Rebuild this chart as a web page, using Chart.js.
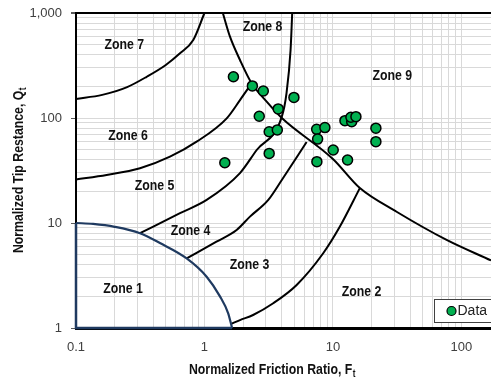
<!DOCTYPE html>
<html lang="en">
<head>
<meta charset="UTF-8">
<title>Soil Behaviour Type Chart</title>
<script src="https://cdn.jsdelivr.net/npm/chart.js"></script>
<style>
  html, body { margin: 0; padding: 0; background: #fff; }
</style>
</head>
<body>
<canvas id="sbtChart" width="491" height="379"></canvas>
<script>
// Decade ticks on both log axes
const xTickValues = [0.1, 1, 10, 100];
const xTickLabels = ['0.1', '1', '10', '100'];
const yTickValues = [1, 10, 100, 1000];
const yTickLabels = ['1', '10', '100', '1,000'];

// CPT results: normalized friction ratio Ft and normalized tip resistance Qt
const dataFt = [1.68, 2.36, 2.87, 4.97, 3.75, 2.67, 3.19, 3.69, 3.19, 1.44, 7.47,
                8.66, 7.6, 10.05, 7.5, 13.0, 12.4, 14.0, 13.8, 15.1, 21.6, 21.6];
const dataQt = [247, 202, 181, 157, 122, 104, 74, 77, 46, 37.5, 78,
                81, 63, 49.6, 38.4, 39.8, 94.3, 92.2, 101.6, 103, 80, 59.5];

// Zone boundaries, [Ft, Qt]
const zone1Curve = [[0.1, 10], [0.136, 9.8], [0.2, 9.2], [0.315, 8.0], [0.45, 6.45],
                    [0.727, 4.6], [1.04, 3.08], [1.32, 2.0], [1.53, 1.38], [1.64, 1]];
const zone1Edges = [[0.1, 10], [0.1, 1], [1.64, 1]];
const zone67 = [[0.1, 152], [0.16, 166], [0.25, 197], [0.355, 247], [0.5, 320],
                [0.645, 413], [0.818, 553], [1.0, 1000]];
const zone56 = [[0.1, 26], [0.173, 28.7], [0.315, 33.2], [0.539, 42.8], [0.869, 59.5],
                [1.49, 99.3], [1.89, 148], [2.33, 214]];
const zone789 = [[1.39, 1000], [1.58, 595], [1.89, 357], [2.33, 214], [3.05, 143],
                 [4.0, 100], [10, 40.7], [16.2, 21.5], [31.3, 12.8], [76.7, 6.9], [170, 4.4]];
const zone45 = [[0.315, 8.0], [0.645, 12.4], [1.04, 16.6], [1.89, 29.9], [2.55, 49.6],
                [4.0, 103], [4.35, 172], [4.68, 444], [4.82, 1000]];
const zone34 = [[0.727, 4.6], [1.24, 6.64], [1.78, 8.58], [2.26, 11.5], [3.14, 16.6],
                [4.0, 25.7], [6.24, 59]];
const zone23 = [[1.63, 1.1], [1.89, 1.19], [2.39, 1.33], [3.43, 1.72], [5.22, 2.57],
                [8.4, 5.15], [11.3, 9.2], [16.2, 21.5]];

const zoneNames = ['Zone 1', 'Zone 2', 'Zone 3', 'Zone 4', 'Zone 5', 'Zone 6', 'Zone 7', 'Zone 8', 'Zone 9'];

const SANS = '"Liberation Sans", Arial, sans-serif';
const NARROW = 0.82;   // horizontal squeeze for the condensed bold labels
const NAVY = '#1f3a60';
const GREEN = '#00b050';

const toXY = arr => arr.map(p => ({ x: p[0], y: p[1] }));

function boundary(points, color, width, smooth) {
  return {
    type: 'line',
    data: toXY(points),
    borderColor: color,
    borderWidth: width,
    pointRadius: 0,
    showLine: true,
    fill: false,
    cubicInterpolationMode: smooth ? 'monotone' : 'default',
    tension: 0,
    order: 2,
    clip: 4
  };
}

function wholeMantissa(v) {
  const m = v / Math.pow(10, Math.floor(Math.log10(v) + 1e-9));
  return Math.abs(m - Math.round(m)) < 1e-6;
}

function decadeLabel(values, labels) {
  return v => {
    const i = values.findIndex(t => Math.abs(t - v) / t < 1e-6);
    return i >= 0 ? labels[i] : '';
  };
}

// keep the plot box fixed: no extra room for edge labels
function noEdgePadding(s) {
  s.paddingLeft = 0;
  s.paddingRight = 0;
  s.paddingTop = 0;
  s.paddingBottom = 0;
}

// condensed bold text, squeezed horizontally around (x, y)
function narrowWidth(ctx, text, size) {
  ctx.font = 'bold ' + size + 'px ' + SANS;
  return ctx.measureText(text).width * NARROW;
}
function narrowText(ctx, text, x, y, size) {
  ctx.save();
  ctx.font = 'bold ' + size + 'px ' + SANS;
  ctx.translate(x, y);
  ctx.scale(NARROW, 1);
  ctx.textAlign = 'left';
  ctx.textBaseline = 'middle';
  ctx.fillText(text, 0, 0);
  ctx.restore();
}

// zone names placed in Ft / Qt coordinates
const zoneAnchors = [[0.232, 2.35], [16.7, 2.22], [2.24, 3.98], [0.778, 8.39], [0.408, 22.7],
                     [0.254, 67.4], [0.238, 496], [2.83, 731], [29.0, 251]];

const overlayPlugin = {
  id: 'overlay',
  afterDatasetsDraw(chart) {
    const { ctx, scales: { x, y } } = chart;
    ctx.save();
    ctx.fillStyle = '#111';
    zoneNames.forEach((name, i) => {
      const w = narrowWidth(ctx, name, 15);
      narrowText(ctx, name, x.getPixelForValue(zoneAnchors[i][0]) - w / 2,
                 y.getPixelForValue(zoneAnchors[i][1]), 15);
    });

    // legend box in the lower right corner
    const area = chart.chartArea;
    const lx = area.right - 56.5, ly = area.bottom - 28.5;
    ctx.fillStyle = '#fff';
    ctx.fillRect(lx, ly, 62, 23);
    ctx.strokeStyle = '#404040';
    ctx.lineWidth = 1;
    ctx.strokeRect(lx, ly, 62, 23);
    ctx.beginPath();
    ctx.arc(lx + 17, ly + 11.5, 4.5, 0, Math.PI * 2);
    ctx.fillStyle = GREEN;
    ctx.fill();
    ctx.strokeStyle = '#000';
    ctx.lineWidth = 1.2;
    ctx.stroke();
    ctx.fillStyle = '#222';
    ctx.font = '14px ' + SANS;
    ctx.textAlign = 'left';
    ctx.textBaseline = 'middle';
    ctx.fillText('Data', lx + 23, ly + 12);
    ctx.restore();
  },
  afterDraw(chart) {
    const { ctx, chartArea: area } = chart;
    ctx.save();
    ctx.fillStyle = '#111';

    const drawSub = (main, sub, cx, cy) => {
      const w1 = narrowWidth(ctx, main, 15);
      const w2 = narrowWidth(ctx, sub, 10);
      const start = cx - (w1 + w2) / 2;
      narrowText(ctx, main, start, cy, 15);
      narrowText(ctx, sub, start + w1 + 0.5, cy + 4, 10);
    };

    drawSub('Normalized Friction Ratio, F', 't', area.left + 196, 370);

    ctx.translate(19, (area.top + area.bottom) / 2);
    ctx.rotate(-Math.PI / 2);
    drawSub('Normalized Tip Restance, Q', 't', 0, 0);
    ctx.restore();
  }
};

new Chart(document.getElementById('sbtChart'), {
  type: 'scatter',
  data: {
    datasets: [
      {
        label: 'Data',
        data: dataFt.map((f, i) => ({ x: f, y: dataQt[i] })),
        backgroundColor: GREEN,
        borderColor: '#000',
        borderWidth: 1.5,
        pointRadius: 5,
        order: 0
      },
      boundary(zone1Edges, NAVY, 2.5, false),
      boundary(zone1Curve, NAVY, 2.2, true),
      boundary(zone67, '#000', 2, true),
      boundary(zone56, '#000', 2, true),
      boundary(zone789, '#000', 2, true),
      boundary(zone45, '#000', 2, true),
      boundary(zone34, '#000', 2, true),
      boundary(zone23, '#000', 2, true)
    ]
  },
  plugins: [overlayPlugin],
  options: {
    responsive: false,
    animation: false,
    layout: { autoPadding: false, padding: { top: 13, left: 0, right: 0, bottom: 0 } },
    plugins: { legend: { display: false }, tooltip: { enabled: false } },
    scales: {
      x: {
        type: 'logarithmic',
        min: 0.1,
        max: 170,
        afterBuildTicks: s => { s.ticks = s.ticks.filter(t => wholeMantissa(t.value) && t.value <= 100); },
        afterFit: s => { s.height = 51; noEdgePadding(s); },
        grid: {
          color: c => (c.tick && Math.abs(c.tick.value - 0.1) < 1e-9) ? 'rgba(0,0,0,0)' : '#d9d9d9',
          lineWidth: 1,
          drawTicks: false
        },
        border: { display: true, color: '#000', width: 3 },
        ticks: {
          autoSkip: false,
          maxRotation: 0,
          padding: 12,
          color: '#404040',
          font: { family: SANS, size: 13 },
          callback: decadeLabel(xTickValues, xTickLabels)
        }
      },
      y: {
        type: 'logarithmic',
        min: 1,
        max: 1000,
        afterBuildTicks: s => { s.ticks = s.ticks.filter(t => wholeMantissa(t.value)); },
        afterFit: s => { s.width = 76; noEdgePadding(s); },
        grid: {
          color: c => {
            if (!c.tick) return '#d9d9d9';
            if (c.tick.value === 1) return 'rgba(0,0,0,0)';
            if (c.tick.value === 1000) return '#000';
            return '#d9d9d9';
          },
          lineWidth: c => (c.tick && c.tick.value === 1000) ? 2 : 1,
          drawTicks: true,
          tickLength: 5,
          tickColor: c => (c.tick && yTickValues.includes(c.tick.value)) ? '#595959' : 'rgba(0,0,0,0)'
        },
        border: { display: true, color: '#000', width: 2 },
        ticks: {
          autoSkip: false,
          padding: 9,
          color: '#404040',
          font: { family: SANS, size: 13 },
          callback: decadeLabel(yTickValues, yTickLabels)
        }
      }
    }
  }
});
</script>
</body>
</html>
